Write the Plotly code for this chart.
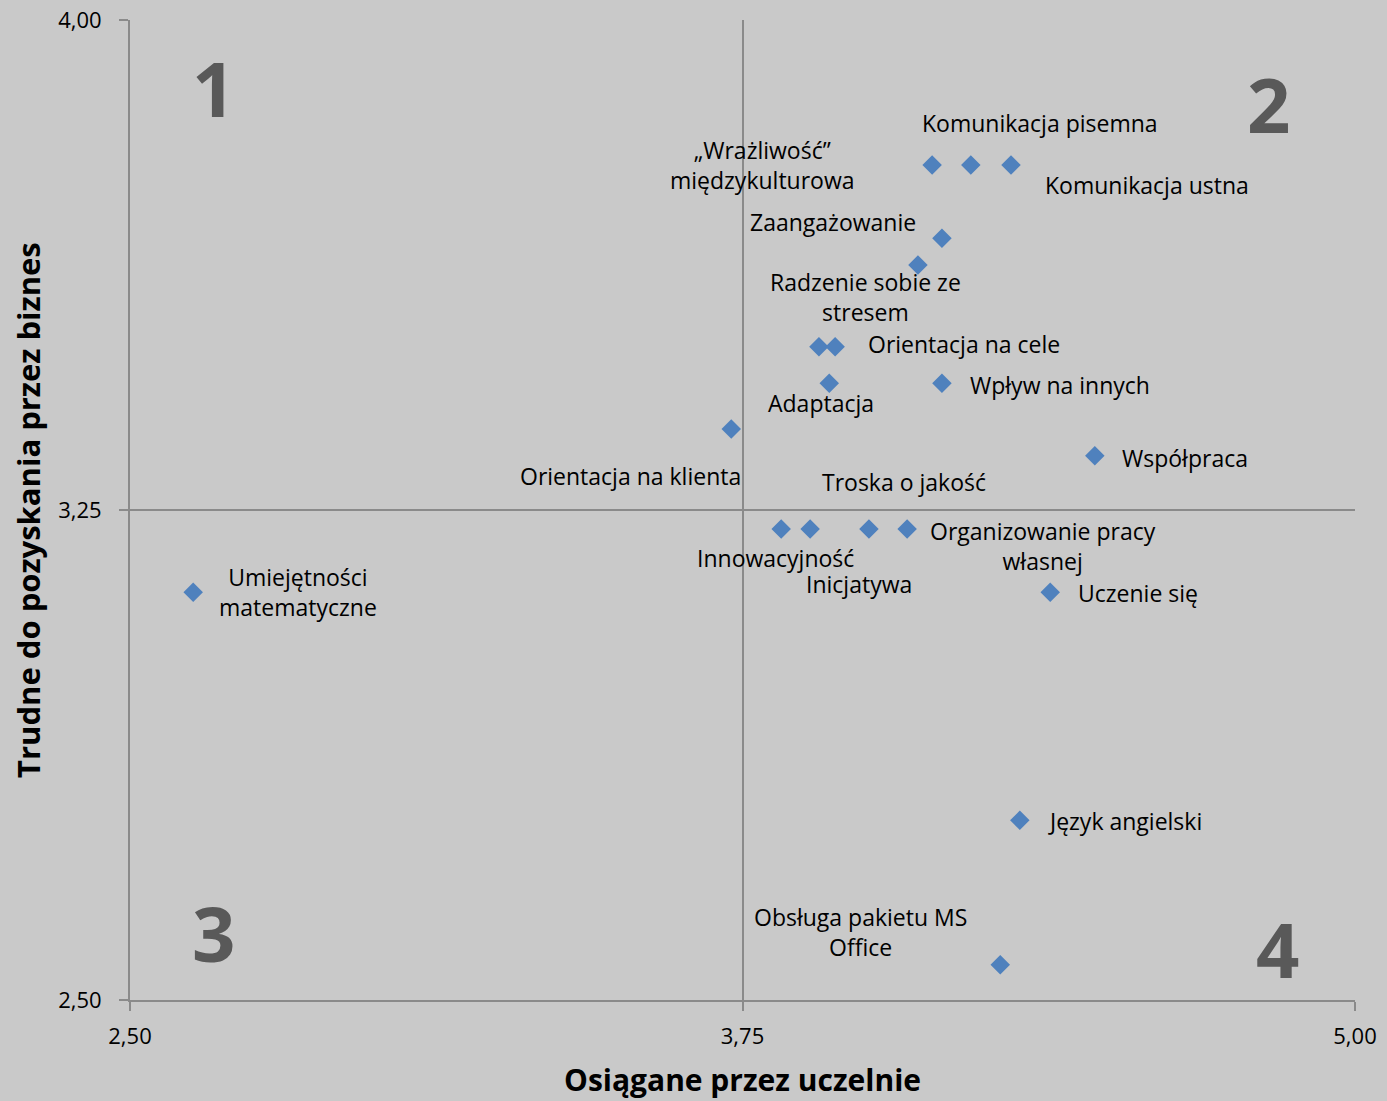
import plotly.graph_objects as go

# ---- data ----
names = [
    "Umiejętności<br>matematyczne",
    "„Wrażliwość”<br>międzykulturowa",
    "Komunikacja pisemna",
    "Komunikacja ustna",
    "Zaangażowanie",
    "Radzenie sobie ze<br>stresem",
    "",
    "Orientacja na cele",
    "Adaptacja",
    "Wpływ na innych",
    "Orientacja na klienta",
    "Współpraca",
    "Innowacyjność",
    "Troska o jakość",
    "Inicjatywa",
    "Organizowanie pracy<br>własnej",
    "Uczenie się",
    "Język angielski",
    "Obsługa pakietu MS<br>Office",
]
x_vals = [2.629, 4.137, 4.216, 4.298, 4.157, 4.108, 3.906, 3.939, 3.927, 4.157,
          3.727, 4.469, 3.829, 3.888, 4.008, 4.086, 4.378, 4.316, 4.276]
y_vals = [3.124, 3.778, 3.778, 3.778, 3.666, 3.625, 3.500, 3.500, 3.444, 3.444,
          3.374, 3.333, 3.221, 3.221, 3.221, 3.221, 3.124, 2.775, 2.554]

x_ticks = [2.50, 3.75, 5.00]
x_ticktext = ["2,50", "3,75", "5,00"]
y_ticks = [2.50, 3.25, 4.00]
y_ticktext = ["2,50", "3,25", "4,00"]

x_title = "Osiągane przez uczelnie"
y_title = "Trudne do pozyskania przez biznes"
quadrants = ["1", "2", "3", "4"]

# ---- label placement (pixel offsets: xshift, yshift, xanchor) ----
label_pos = [
    (105, 0, "center"),
    (-170, 0, "center"),
    (69, 42, "center"),
    (32, -20, "left"),
    (-109, 16, "center"),
    (-52, -32, "center"),
    (0, 0, "center"),
    (31, 3, "left"),
    (-8, -20, "center"),
    (26, -2, "left"),
    (-101, -47, "center"),
    (25, -2, "left"),
    (-6, -29, "center"),
    (94, 47, "center"),
    (-10, -55, "center"),
    (136, -17, "center"),
    (26, -1, "left"),
    (26, -1, "left"),
    (-140, 33, "center"),
]

FONT = "Open Sans"
BG = "#c9c9c9"
LINE = "#8a8a8a"

fig = go.Figure()
fig.add_trace(go.Scatter(
    x=x_vals, y=y_vals, mode="markers",
    marker=dict(symbol="diamond", size=15, color="#4f81bd", line=dict(width=0)),
    hovertext=names, hoverinfo="text", showlegend=False,
))

annotations = []
for nm, xv, yv, (dx, dy, anc) in zip(names, x_vals, y_vals, label_pos):
    if not nm:
        continue
    annotations.append(dict(
        x=xv, y=yv, xref="x", yref="y", text=nm, showarrow=False,
        xshift=dx, yshift=dy, xanchor=anc, yanchor="middle", align="center",
        font=dict(family=FONT, size=23, color="#000000"),
    ))

quad_pos = [(0.0678, 0.9316), (0.929, 0.915), (0.0678, 0.0684), (0.937, 0.053)]
for q, (qx, qy) in zip(quadrants, quad_pos):
    annotations.append(dict(
        x=qx, y=qy, xref="paper", yref="paper", text="<b>%s</b>" % q,
        showarrow=False, xanchor="center", yanchor="middle",
        font=dict(family=FONT, size=76, color="#595959"),
    ))

annotations.append(dict(
    x=0.5, y=0, xref="paper", yref="paper", text="<b>%s</b>" % x_title,
    showarrow=False, xanchor="center", yanchor="middle", yshift=-79,
    font=dict(family=FONT, size=30, color="#000000"),
))
annotations.append(dict(
    x=0, y=0.5, xref="paper", yref="paper", text="<b>%s</b>" % y_title,
    showarrow=False, xanchor="center", yanchor="middle", xshift=-102,
    textangle=-90, font=dict(family=FONT, size=31, color="#000000"),
))

axis_common = dict(
    showgrid=True, gridcolor=LINE, gridwidth=1.5,
    showline=True, linecolor=LINE, linewidth=2,
    ticks="outside", ticklen=9, tickcolor=LINE, tickwidth=1.5,
    zeroline=False, mirror=False, automargin=False,
    tickfont=dict(family=FONT, size=22, color="#000000"),
)

fig.update_layout(
    width=1387, height=1101,
    margin=dict(l=130, r=32, t=20, b=101),
    paper_bgcolor=BG, plot_bgcolor=BG,
    xaxis=dict(range=[2.5, 5.0], tickvals=x_ticks, ticktext=x_ticktext,
               ticklabelstandoff=7, **axis_common),
    yaxis=dict(range=[2.5, 4.0], tickvals=y_ticks, ticktext=y_ticktext,
               ticklabelstandoff=13, **axis_common),
    annotations=annotations,
    font=dict(family=FONT),
)

fig.write_html("out.html")
